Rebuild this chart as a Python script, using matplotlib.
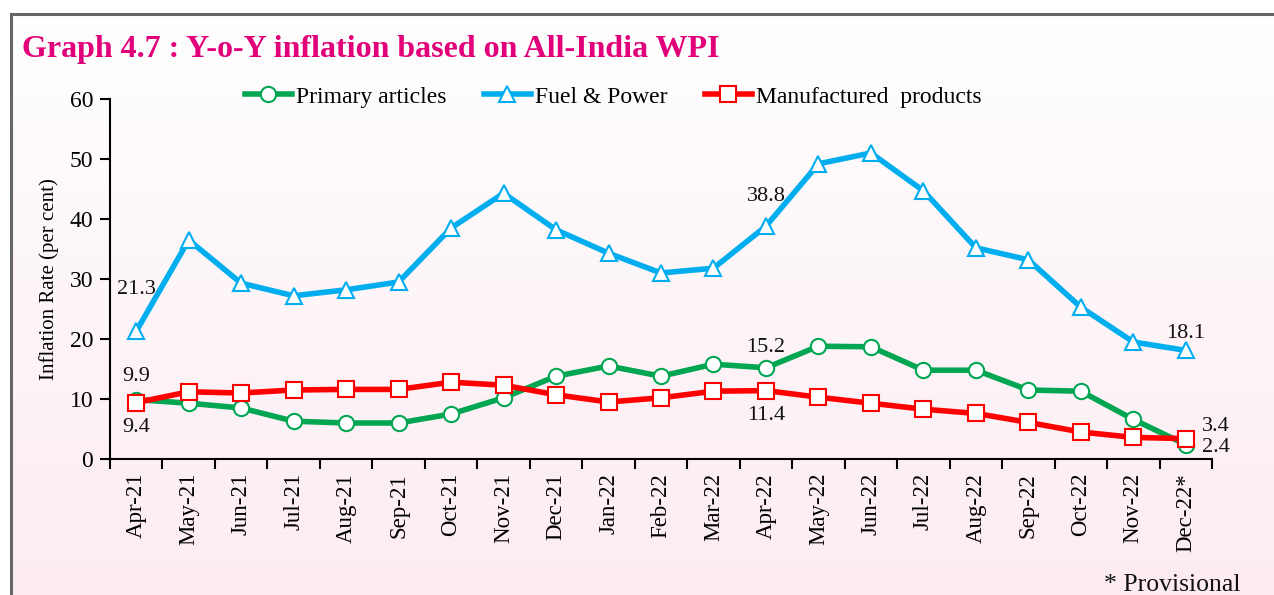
import numpy as np
from matplotlib import pyplot as plt
from matplotlib.lines import Line2D
from matplotlib.colors import LinearSegmentedColormap

months = ['Apr-21', 'May-21', 'Jun-21', 'Jul-21', 'Aug-21', 'Sep-21', 'Oct-21',
          'Nov-21', 'Dec-21', 'Jan-22', 'Feb-22', 'Mar-22', 'Apr-22', 'May-22',
          'Jun-22', 'Jul-22', 'Aug-22', 'Sep-22', 'Oct-22', 'Nov-22', 'Dec-22*']

primary = [9.9, 9.3, 8.5, 6.3, 6.0, 6.0, 7.5, 10.2, 13.8, 15.5,
           13.8, 15.8, 15.2, 18.8, 18.7, 14.8, 14.8, 11.5, 11.3, 6.6, 2.4]
fuel = [21.3, 36.5, 29.3, 27.2, 28.2, 29.5, 38.5, 44.3, 38.2, 34.3,
        31.0, 31.8, 38.8, 49.2, 51.0, 44.7, 35.2, 33.2, 25.3, 19.5, 18.1]
manuf = [9.4, 11.2, 11.0, 11.5, 11.6, 11.6, 12.8, 12.3, 10.7, 9.5,
         10.2, 11.3, 11.4, 10.3, 9.3, 8.3, 7.6, 6.1, 4.5, 3.6, 3.4]

series_names = ['Primary articles', 'Fuel & Power', 'Manufactured  products']

plt.rcParams['font.family'] = ['Liberation Serif', 'DejaVu Serif']

GREEN = '#00a651'
BLUE = '#00aeef'
RED = '#ff0000'

fig = plt.figure(figsize=(12.74, 5.95), dpi=100)

# background gradient (white at top -> light pink at bottom) and frame
bg = fig.add_axes([0, 0, 1, 1], zorder=-10)
grad = np.linspace(0, 1, 256).reshape(-1, 1)
cmap = LinearSegmentedColormap.from_list('bg', ['#fcecf2', '#ffffff'])
bg.imshow(grad, aspect='auto', cmap=cmap, origin='lower', extent=[0, 1, 0, 1])
bg.set_xlim(0, 1)
bg.set_ylim(0, 1)
bg.axis('off')
bg.axhspan(1 - 13 / 595, 1, color='white', zorder=2)
bg.axvspan(0, 11 / 1274, color='white', zorder=2)
bg.plot([11 / 1274, 1], [1 - 14 / 595, 1 - 14 / 595], color='#666666', lw=2.2, zorder=3)
bg.plot([11 / 1274, 11 / 1274], [0, 1 - 14 / 595], color='#666666', lw=2.2, zorder=3)

ax = fig.add_axes([110 / 1274, 1 - 459 / 595, 1102 / 1274, 360 / 595])
ax.patch.set_alpha(0)
x = np.arange(len(months))

ax.plot(x, primary, color=GREEN, lw=4, marker='o', ms=11, mfc='white',
        mec=GREEN, mew=1.5, zorder=3)
ax.plot(x, fuel, color=BLUE, lw=4, marker='^', ms=12, mfc='white',
        mec=BLUE, mew=1.5, zorder=3)
ax.plot(x, manuf, color=RED, lw=4, marker='s', ms=11, mfc='white',
        mec=RED, mew=1.5, zorder=4)

ax.set_xlim(-0.5, len(months) - 0.5)
ax.set_ylim(0, 60)
ax.set_yticks(range(0, 61, 10))
ax.set_xticks(x)
ax.set_xticklabels(months, rotation=90, fontsize=16.5)
ax.set_xticks(np.arange(-0.5, len(months), 1), minor=True)
ax.tick_params(axis='x', which='major', length=0, pad=10)
ax.tick_params(axis='x', which='minor', length=7, width=1.5, direction='out')
ax.tick_params(axis='y', labelsize=17, length=7, width=1.5, direction='out', pad=5)
for s in ['top', 'right']:
    ax.spines[s].set_visible(False)
for s in ['left', 'bottom']:
    ax.spines[s].set_linewidth(1.5)
ax.set_ylabel('Inflation Rate (per cent)', fontsize=15, labelpad=8)

# data labels
lab = dict(fontsize=16, color='#111111', va='center')
ax.text(0, fuel[0] + 6.9, '21.3', ha='center', **lab)
ax.text(0, primary[0] + 3.8, '9.9', ha='center', **lab)
ax.text(0, manuf[0] - 4.2, '9.4', ha='center', **lab)
ax.text(12, fuel[12] + 4.9, '38.8', ha='center', **lab)
ax.text(12, primary[12] + 3.3, '15.2', ha='center', **lab)
ax.text(12, manuf[12] - 4.1, '11.4', ha='center', **lab)
ax.text(20, fuel[20] + 2.9, '18.1', ha='center', **lab)
ax.text(20.3, 5.4, '3.4', ha='left', **lab)
ax.text(20.3, 2.0, '2.4', ha='left', **lab)

handles = [
    Line2D([], [], color=GREEN, lw=4, marker='o', ms=11, mfc='white', mec=GREEN, mew=1.5),
    Line2D([], [], color=BLUE, lw=4, marker='^', ms=12, mfc='white', mec=BLUE, mew=1.5),
    Line2D([], [], color=RED, lw=4, marker='s', ms=11, mfc='white', mec=RED, mew=1.5),
]
fig.legend(handles, series_names,
           loc='center', bbox_to_anchor=(613 / 1274, 1 - 97 / 595), ncol=3,
           frameon=False, fontsize=17, handlelength=2.0, handletextpad=0.15,
           columnspacing=1.6)

fig.text(22 / 1274, 1 - 50 / 595, 'Graph 4.7 : Y-o-Y inflation based on All-India WPI',
         fontsize=23, fontweight='bold', color='#e2007a', va='center', ha='left')
fig.text(1240 / 1274, 1 - 585 / 595, '* Provisional', fontsize=18.5,
         ha='right', va='center', color='#111111')

fig.savefig('out.png', dpi=100)
